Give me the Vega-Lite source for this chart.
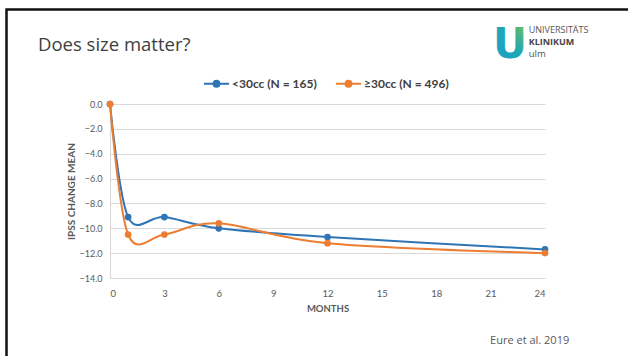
{
  "$schema": "https://vega.github.io/schema/vega-lite/v6.json",
  "width": 435,
  "height": 174,
  "autosize": {"type": "none"},
  "padding": {"left": 110, "top": 104, "right": 83, "bottom": 78},
  "background": "white",
  "title": {
    "text": "Does size matter?",
    "anchor": "start",
    "frame": "group",
    "dx": -72,
    "offset": 0,
    "dy": 46,
    "font": "Open Sans",
    "fontSize": 18.5,
    "fontWeight": "normal",
    "color": "#404040"
  },
  "config": {
    "view": {"stroke": null},
    "font": "Lato"
  },
  "datasets": {
    "ipss": [
      {"month": 0, "group": "<30cc (N = 165)", "change": 0.0},
      {"month": 1, "group": "<30cc (N = 165)", "change": -9.1},
      {"month": 3, "group": "<30cc (N = 165)", "change": -9.1},
      {"month": 6, "group": "<30cc (N = 165)", "change": -10.0},
      {"month": 12, "group": "<30cc (N = 165)", "change": -10.7},
      {"month": 24, "group": "<30cc (N = 165)", "change": -11.7},
      {"month": 0, "group": "≥30cc (N = 496)", "change": 0.0},
      {"month": 1, "group": "≥30cc (N = 496)", "change": -10.5},
      {"month": 3, "group": "≥30cc (N = 496)", "change": -10.5},
      {"month": 6, "group": "≥30cc (N = 496)", "change": -9.6},
      {"month": 12, "group": "≥30cc (N = 496)", "change": -11.2},
      {"month": 24, "group": "≥30cc (N = 496)", "change": -12.0}
    ]
  },
  "layer": [
    {
      "data": {"name": "ipss"},
      "mark": {"type": "line", "interpolate": "cardinal", "strokeWidth": 2},
      "encoding": {
        "x": {
          "field": "month", "type": "quantitative",
          "scale": {"domain": [0, 24], "nice": false},
          "axis": {
            "values": [0, 3, 6, 9, 12, 15, 18, 21, 24],
            "tickCount": 9,
            "title": "MONTHS",
            "titleFont": "Lato", "titleFontSize": 9.5, "titleFontWeight": "bold", "titleColor": "#595959",
            "titlePadding": 6,
            "labelFont": "Lato", "labelFontSize": 9.5, "labelColor": "#595959", "labelPadding": 10,
            "labelOverlap": false,
            "grid": false, "ticks": false,
            "domainColor": "#d9d9d9", "domainWidth": 1.2
          }
        },
        "y": {
          "field": "change", "type": "quantitative",
          "scale": {"domain": [-14, 0], "nice": false},
          "axis": {
            "values": [0, -2, -4, -6, -8, -10, -12, -14],
            "tickCount": 8,
            "format": ".1f",
            "title": "IPSS CHANGE MEAN",
            "titleFont": "Lato", "titleFontSize": 10, "titleFontWeight": "bold", "titleColor": "#595959",
            "titleX": -39,
            "titleY": 87,
            "titleBaseline": "middle",
            "labelFont": "Lato", "labelFontSize": 9, "labelColor": "#595959", "labelPadding": 8,
            "labelOverlap": false,
            "grid": true, "gridColor": "#d9d9d9", "gridWidth": 1.2,
            "ticks": false,
            "domainColor": "#d9d9d9", "domainWidth": 1.2
          }
        },
        "color": {
          "field": "group", "type": "nominal",
          "scale": {"domain": ["<30cc (N = 165)", "≥30cc (N = 496)"], "range": ["#2e75b6", "#ed7d31"]},
          "legend": {
            "title": null,
            "orient": "none",
            "direction": "horizontal",
            "legendX": 95,
            "legendY": -32,
            "columns": 2,
            "columnPadding": 14,
            "symbolType": "M-1.2,0H1.2M0.28,0A0.28,0.28,0,1,1,-0.28,0A0.28,0.28,0,1,1,0.28,0Z",
            "symbolSize": 440,
            "symbolStrokeWidth": 2,
            "labelFont": "Lato", "labelFontSize": 12, "labelFontWeight": "bold", "labelColor": "#404040",
            "labelOffset": 4,
            "encode": {"symbols": {"update": {"fill": {"scale": "color", "field": "value"}}}}
          }
        }
      }
    },
    {
      "data": {"name": "ipss"},
      "mark": {"type": "point", "filled": true, "size": 45, "opacity": 1},
      "encoding": {
        "x": {"field": "month", "type": "quantitative"},
        "y": {"field": "change", "type": "quantitative"},
        "color": {"field": "group", "type": "nominal", "legend": null}
      }
    },
    {
      "data": {"values": [{}]},
      "mark": {"type": "rect", "fill": null, "stroke": "#111111", "strokeWidth": 2.5, "clip": false},
      "encoding": {
        "x": {"datum": -5.71, "type": "quantitative"},
        "x2": {"datum": 30},
        "y": {"datum": 7.6, "type": "quantitative"},
        "y2": {"datum": -22}
      }
    },
    {
      "data": {"values": [{"label": "U"}]},
      "mark": {
        "type": "text", "font": "DejaVu Sans", "fontWeight": "bold", "fontSize": 42,
        "align": "center", "baseline": "middle", "clip": false,
        "fill": {
          "gradient": "linear", "x1": 0, "y1": 1, "x2": 1, "y2": 0,
          "stops": [
            {"offset": 0, "color": "#1a9bd7"},
            {"offset": 0.55, "color": "#1fa9b0"},
            {"offset": 1, "color": "#8cc63f"}
          ]
        }
      },
      "encoding": {
        "x": {"datum": 22.07, "type": "quantitative"},
        "y": {"datum": 4.75, "type": "quantitative"},
        "text": {"field": "label"}
      }
    },
    {
      "data": {"values": [{"label": "UNIVERSITÄTS"}]},
      "mark": {"type": "text", "font": "Open Sans", "fontSize": 9, "color": "#555555", "align": "left", "baseline": "middle", "clip": false},
      "encoding": {
        "x": {"datum": 23.1, "type": "quantitative"},
        "y": {"datum": 5.95, "type": "quantitative"},
        "text": {"field": "label"}
      }
    },
    {
      "data": {"values": [{"label": "KLINIKUM"}]},
      "mark": {"type": "text", "font": "Open Sans", "fontSize": 9, "fontWeight": "bold", "color": "#444444", "align": "left", "baseline": "middle", "clip": false},
      "encoding": {
        "x": {"datum": 23.1, "type": "quantitative"},
        "y": {"datum": 4.99, "type": "quantitative"},
        "text": {"field": "label"}
      }
    },
    {
      "data": {"values": [{"label": "ulm"}]},
      "mark": {"type": "text", "font": "Open Sans", "fontSize": 9.5, "color": "#555555", "align": "left", "baseline": "middle", "clip": false},
      "encoding": {
        "x": {"datum": 23.1, "type": "quantitative"},
        "y": {"datum": 4.02, "type": "quantitative"},
        "text": {"field": "label"}
      }
    },
    {
      "data": {"values": [{"label": "Eure et al. 2019"}]},
      "mark": {"type": "text", "font": "Open Sans", "fontSize": 11, "color": "#595959", "align": "left", "baseline": "middle", "clip": false},
      "encoding": {
        "x": {"datum": 20.97, "type": "quantitative"},
        "y": {"datum": -19.07, "type": "quantitative"},
        "text": {"field": "label"}
      }
    }
  ]
}
